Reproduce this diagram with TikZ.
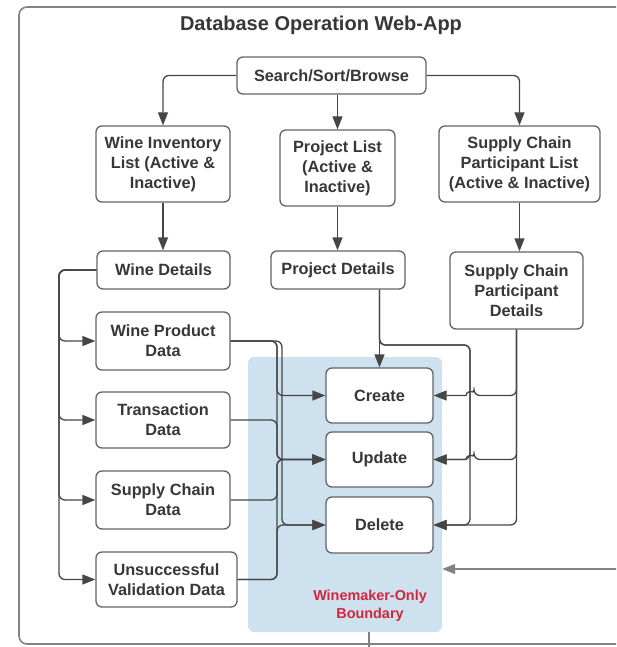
\documentclass[tikz,border=0pt]{standalone}
\usepackage{fontspec}
\newfontfamily\lsans{Liberation Sans}
\usepackage{tikz}
\usetikzlibrary{calc}
\usetikzlibrary{arrows.meta}
\definecolor{framegray}{RGB}{130,130,130}
\definecolor{linegray}{RGB}{70,70,70}
\definecolor{boxgray}{RGB}{100,100,100}
\definecolor{textgray}{RGB}{55,55,55}
\definecolor{zoneblue}{RGB}{205,225,239}
\definecolor{zonered}{RGB}{211,38,59}
\newcommand{\boxfont}{\lsans\bfseries\fontsize{16.3}{20}\selectfont}

\begin{document}
\begin{tikzpicture}[x=1pt,y=-1pt,>={Triangle[length=13pt,width=10pt]},
  box/.style={draw=boxgray,line width=1.3pt,rounded corners=6pt,fill=white,align=center,inner sep=0pt,text=textgray,font=\boxfont},
  conn/.style={draw=linegray,line width=1.3pt,rounded corners=6pt,->}]

\useasboundingbox (0,0) rectangle (616,647);
\clip (0,0) rectangle (616,647);

\coordinate (frametop) at (630,7);
\coordinate (framebot) at (630,644);
\draw[framegray,line width=1.6pt,rounded corners=8pt] (frametop) -- (19,7) -- (19,644) -- (framebot);
\node[text=textgray,anchor=base,inner sep=0pt,font=\lsans\bfseries\fontsize{20}{24}\selectfont] (title) at (321,31) {Database Operation Web-App};

\node[fill=zoneblue,rounded corners=6pt,minimum width=194pt,minimum height=275pt,inner sep=0pt] (zone) at (345,494.5) {};
\node[text=zonered,align=center,inner sep=0pt,font=\lsans\bfseries\fontsize{14.4}{18}\selectfont] (zonelabel) at (370,606) {Winemaker-Only\\Boundary};

\node[box,minimum width=189pt,minimum height=37pt] (search) at (331.5,75.5) {Search/Sort/Browse};

\node[box,minimum width=134pt,minimum height=76pt] (winv) at (163,164) {Wine Inventory\\List (Active \&\\Inactive)};
\node[box,minimum width=115pt,minimum height=76pt] (plist) at (337.5,168) {Project List\\(Active \&\\Inactive)};
\node[box,minimum width=161pt,minimum height=76pt] (sclist) at (519.5,164) {Supply Chain\\Participant List\\(Active \& Inactive)};

\node[box,minimum width=133pt,minimum height=38pt] (wdet) at (163.5,270) {Wine Details};
\node[box,minimum width=134pt,minimum height=38pt] (pdet) at (338,270) {Project Details};
\node[box,minimum width=133pt,minimum height=77pt] (scdet) at (516.5,290.5) {Supply Chain\\Participant\\Details};

\node[box,minimum width=134pt,minimum height=58pt] (wpd) at (163,341) {Wine Product\\Data};
\node[box,minimum width=134pt,minimum height=56pt] (trd) at (163,420) {Transaction\\Data};
\node[box,minimum width=134pt,minimum height=58pt] (scd) at (163,500) {Supply Chain\\Data};
\node[box,minimum width=141pt,minimum height=55pt] (uvd) at (166.5,579.5) {Unsuccessful\\Validation Data};

\node[box,minimum width=107pt,minimum height=55pt] (create) at (379.5,395.5) {Create};
\node[box,minimum width=107pt,minimum height=55pt] (update) at (379.5,459.5) {Update};
\node[box,minimum width=107pt,minimum height=56pt] (delete) at (379.5,525) {Delete};

\coordinate (ltrunk) at (59,270);
\coordinate (mida) at (277,0);
\coordinate (midb) at (282,0);
\coordinate (rtrunk) at (470,345);
\coordinate (offpage) at (640,569);
\coordinate (gate) at (369,660);

\draw[conn] (search.west) -| (winv.north);
\draw[conn] (search.south -| plist.north) -- (plist.north);
\draw[conn] (search.east) -| (sclist.north);

\draw[conn] (winv.south) -- (winv.south |- wdet.north);
\draw[conn] (plist.south) -- (plist.south |- pdet.north);
\draw[conn] (sclist.south) -- (sclist.south |- scdet.north);

\foreach \t in {wpd,trd,scd,uvd}
  \draw[conn] (wdet.west) -- (wdet.west -| ltrunk) |- (\t.west);

\draw[conn] (wpd.east) -- (wpd.east -| mida) |- (create.west);
\draw[conn] (wpd.east) -- (wpd.east -| mida) |- (update.west);
\draw[conn] (wpd.east) -- (wpd.east -| midb) |- (delete.west);
\draw[conn] (trd.east) -- (trd.east -| mida) |- (update.west);
\draw[conn] (scd.east) -- (scd.east -| mida) |- (update.west);
\draw[conn] (uvd.east) -- (uvd.east -| mida) |- (update.west);
\draw[conn] (uvd.east) -- (uvd.east -| mida) |- (delete.west);

\draw[conn] (pdet.south -| create.north) -- (create.north);
\draw[conn] (pdet.south -| create.north) |- (rtrunk) |- (update.east);
\draw[conn] (pdet.south -| create.north) |- (rtrunk) |- (delete.east);

\draw[conn] (scdet.south) |- ($(create.east -| rtrunk)+(4,0)$) [sharp corners] arc[start angle=0,end angle=180,radius=4pt] -- (create.east);
\draw[conn] (scdet.south) |- ($(update.east -| rtrunk)+(4,0)$) [sharp corners] arc[start angle=0,end angle=180,radius=4pt] -- (update.east);
\draw[conn] (scdet.south) |- (delete.east);

\draw[conn,draw=framegray] (offpage) -- (offpage -| zone.east);
\draw[framegray,line width=1.3pt] (gate |- zone.south) -- (gate);
\end{tikzpicture}
\end{document}
